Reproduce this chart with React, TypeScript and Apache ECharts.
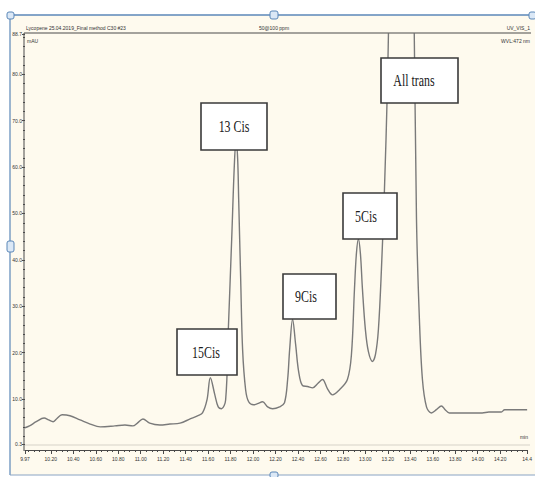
import React, { useEffect, useRef } from "react";
import * as echarts from "echarts";

// Retention time (min) and absorbance (mAU)
const retentionTime = [
  9.97, 10.01, 10.07, 10.14, 10.18, 10.22, 10.25, 10.3, 10.37, 10.46, 10.55, 10.64,
  10.77, 10.86, 10.93, 10.97, 11.02, 11.08, 11.17, 11.26, 11.35, 11.44, 11.51, 11.55,
  11.59, 11.62, 11.66, 11.69, 11.72, 11.756, 11.78, 11.81, 11.836, 11.85, 11.863, 11.872,
  11.89, 11.907, 11.934, 11.961, 12.005, 12.04, 12.085, 12.13, 12.174, 12.236, 12.28,
  12.308, 12.326, 12.352, 12.379, 12.406, 12.44, 12.485, 12.53, 12.574, 12.618, 12.663,
  12.707, 12.77, 12.84, 12.876, 12.903, 12.92, 12.938, 12.956, 12.974, 13.0, 13.027,
  13.063, 13.09, 13.116, 13.143, 13.17, 13.196, 13.21, 13.25, 13.32, 13.4, 13.43, 13.455,
  13.481, 13.508, 13.544, 13.588, 13.632, 13.677, 13.71, 13.748, 14.04, 14.1, 14.21,
  14.24, 14.44,
];
const absorbance = [
  3.8, 4.2, 5.1, 5.9, 5.5, 5.1, 5.7, 6.6, 6.4, 5.5, 4.6, 4.0,
  4.2, 4.4, 4.2, 4.8, 5.7, 4.8, 4.4, 4.6, 4.8, 5.7, 6.4, 7.0,
  9.8, 14.6, 10.9, 8.3, 7.9, 9.8, 25.0, 44.5, 61.8, 65.5, 61.8, 53.2,
  35.8, 20.7, 12.0, 9.4, 8.75, 9.0, 9.4, 8.3, 7.9, 8.3, 9.2,
  14.2, 20.7, 27.2, 21.8, 15.9, 12.9, 12.7, 12.4, 13.3, 14.2, 12.2,
  10.9, 12.0, 14.2, 19.6, 33.7, 41.3, 44.5, 41.3, 33.7, 25.0, 20.2,
  18.1, 19.6, 25.0, 38.0, 55.3, 77.0, 95, 140, 160, 140, 100, 48.8,
  27.2, 14.2, 8.3, 7.0, 7.7, 8.5, 7.7, 7.0, 7.0, 7.2, 7.2,
  7.7, 7.7,
];

const xTickValues = [
  9.97, 10.2, 10.4, 10.6, 10.8, 11.0, 11.2, 11.4, 11.6, 11.8, 12.0, 12.2, 12.4, 12.6,
  12.8, 13.0, 13.2, 13.4, 13.6, 13.8, 14.0, 14.2, 14.44,
];
const xTickLabels = [
  "9.97", "10.20", "10.40", "10.60", "10.80", "11.00", "11.20", "11.40", "11.60", "11.80",
  "12.00", "12.20", "12.40", "12.60", "12.80", "13.00", "13.20", "13.40", "13.60", "13.80",
  "14.00", "14.20", "14.4",
];
const yTickValues = [0.3, 10, 20, 30, 40, 50, 60, 70, 80, 88.7];
const yTickLabels = ["0.3", "10.0", "20.0", "30.0", "40.0", "50.0", "60.0", "70.0", "80.0", "88.7"];

const peakNames = ["15Cis", "13 Cis", "9Cis", "5Cis", "All trans"];

const headerLeft = "Lycopene 25.04.2019_Final method C30 #23";
const headerCenter = "50@100 ppm";
const headerRight = "UV_VIS_1";
const wavelength = "WVL:472 nm";
const yUnit = "mAU";
const xUnit = "min";

const X_MIN = 9.97;
const X_MAX = 14.44;
const Y_MIN = 0.3;
const Y_MAX = 88.7;

export default function App() {
  const ref = useRef<HTMLDivElement>(null);

  useEffect(() => {
    if (!ref.current) return;
    const chart = echarts.init(ref.current, null, { renderer: "svg" });

    const seriesData = retentionTime.map((t, i) => [t, absorbance[i]]);

    const xMinor: number[] = [];
    for (let v = 10.0; v <= 14.4001; v += 0.05) xMinor.push(Math.round(v * 100) / 100);
    const yMinor: number[] = [];
    for (let v = 2; v <= 88; v += 2) yMinor.push(v);

    const xLabelMap = new Map<number, string>();
    xTickValues.forEach((v, i) => xLabelMap.set(v, xTickLabels[i]));
    const yLabelMap = new Map<number, string>();
    yTickValues.forEach((v, i) => yLabelMap.set(v, yTickLabels[i]));

    const boxes = [
      { x: 177, y: 329, w: 60, h: 46 },
      { x: 201, y: 103, w: 66, h: 47 },
      { x: 283, y: 274, w: 53, h: 45 },
      { x: 343, y: 193, w: 54, h: 46 },
      { x: 381, y: 58, w: 77, h: 45 },
    ];
    const textCenters = [
      [206, 352],
      [234, 126],
      [306, 296],
      [366, 216],
      [414, 80],
    ];

    const boxGraphics: any[] = [];
    boxes.forEach((b, i) => {
      boxGraphics.push({
        type: "rect",
        z: 100,
        shape: { x: b.x, y: b.y, width: b.w, height: b.h },
        style: { fill: "#ffffff", stroke: "#3a3a3a", lineWidth: 1.6 },
      });
      boxGraphics.push({
        type: "text",
        z: 101,
        x: textCenters[i][0],
        y: textCenters[i][1],
        scaleX: 0.7,
        style: {
          text: peakNames[i],
          font: '17px "Liberation Serif", "DejaVu Serif", serif',
          fill: "#1a1a1a",
          align: "center",
          verticalAlign: "middle",
        },
      });
    });

    const smallFont = '5px "Liberation Sans", Arial, sans-serif';

    const frame: any[] = [
      {
        type: "rect",
        z: -10,
        shape: { x: 10, y: 15, width: 525, height: 460 },
        style: { fill: "#fefaee" },
      },
      { type: "line", z: 50, shape: { x1: 10, y1: 15, x2: 535, y2: 15 }, style: { stroke: "#5b87b8", lineWidth: 1.5 } },
      { type: "line", z: 50, shape: { x1: 10, y1: 15, x2: 10, y2: 475 }, style: { stroke: "#5b87b8", lineWidth: 1.2 } },
      { type: "line", z: 50, shape: { x1: 10, y1: 475, x2: 535, y2: 475 }, style: { stroke: "#8aa4c4", lineWidth: 1 } },
      { type: "rect", z: 51, shape: { x: 7, y: 12, width: 7, height: 7, r: 2 }, style: { fill: "#dbe8f6", stroke: "#5b87b8", lineWidth: 1 } },
      { type: "rect", z: 51, shape: { x: 270, y: 11, width: 8, height: 8, r: 2 }, style: { fill: "#dbe8f6", stroke: "#5b87b8", lineWidth: 1 } },
      { type: "rect", z: 51, shape: { x: 529, y: 12, width: 7, height: 7, r: 2 }, style: { fill: "#dbe8f6", stroke: "#5b87b8", lineWidth: 1 } },
      { type: "rect", z: 51, shape: { x: 7, y: 241, width: 7, height: 11, r: 2 }, style: { fill: "#dbe8f6", stroke: "#5b87b8", lineWidth: 1 } },
      { type: "rect", z: 51, shape: { x: 270, y: 472, width: 8, height: 6, r: 2 }, style: { fill: "#dbe8f6", stroke: "#5b87b8", lineWidth: 1 } },
      // plot frame
      { type: "line", z: 40, shape: { x1: 24, y1: 33, x2: 531, y2: 33 }, style: { stroke: "#4a4a4a", lineWidth: 1 } },
      { type: "line", z: 40, shape: { x1: 24, y1: 33, x2: 24, y2: 451 }, style: { stroke: "#4a4a4a", lineWidth: 1 } },
      { type: "line", z: 40, shape: { x1: 25, y1: 445, x2: 530, y2: 445 }, style: { stroke: "#d6d2c8", lineWidth: 1 } },
      // header texts
      { type: "text", z: 60, x: 26, y: 28, style: { text: headerLeft, font: smallFont, fill: "#333", verticalAlign: "middle" } },
      { type: "text", z: 60, x: 274, y: 28, style: { text: headerCenter, font: smallFont, fill: "#333", align: "center", verticalAlign: "middle" } },
      { type: "text", z: 60, x: 530, y: 28, style: { text: headerRight, font: smallFont, fill: "#333", align: "right", verticalAlign: "middle" } },
      { type: "text", z: 60, x: 530, y: 41, style: { text: wavelength, font: smallFont, fill: "#333", align: "right", verticalAlign: "middle" } },
      { type: "text", z: 60, x: 27, y: 41, style: { text: yUnit, font: smallFont, fill: "#333", verticalAlign: "middle" } },
      { type: "text", z: 60, x: 528, y: 437, style: { text: xUnit, font: smallFont, fill: "#333", align: "right", verticalAlign: "middle" } },
    ];

    chart.setOption({
      animation: false,
      backgroundColor: "#ffffff",
      grid: { left: 25, right: 7, top: 34, bottom: 33, containLabel: false },
      xAxis: [
        {
          type: "value",
          min: X_MIN,
          max: X_MAX,
          offset: 6,
          axisLine: { show: true, lineStyle: { color: "#4a4a4a", width: 1 } },
          axisTick: { show: true, customValues: xTickValues, length: 4, lineStyle: { color: "#4a4a4a" } },
          axisLabel: {
            show: true,
            customValues: xTickValues,
            formatter: (v: number) => xLabelMap.get(v) ?? v.toFixed(2),
            fontSize: 5,
            fontFamily: "Liberation Sans, Arial, sans-serif",
            color: "#333",
            margin: 6,
          },
          splitLine: { show: false },
        },
        {
          type: "value",
          min: X_MIN,
          max: X_MAX,
          position: "bottom",
          offset: 6,
          axisLine: { show: false },
          axisTick: { show: true, customValues: xMinor, length: 2, lineStyle: { color: "#4a4a4a" } },
          axisLabel: { show: false },
          splitLine: { show: false },
        },
      ],
      yAxis: [
        {
          type: "value",
          min: Y_MIN,
          max: Y_MAX,
          axisLine: { show: false },
          axisTick: { show: true, customValues: yTickValues, length: 3, lineStyle: { color: "#4a4a4a" } },
          axisLabel: {
            show: true,
            customValues: yTickValues,
            formatter: (v: number) => yLabelMap.get(v) ?? v.toFixed(1),
            fontSize: 5,
            fontFamily: "Liberation Sans, Arial, sans-serif",
            color: "#333",
            margin: 3,
          },
          splitLine: { show: false },
        },
        {
          type: "value",
          min: Y_MIN,
          max: Y_MAX,
          position: "left",
          axisLine: { show: false },
          axisTick: { show: true, customValues: yMinor, length: 2, lineStyle: { color: "#4a4a4a" } },
          axisLabel: { show: false },
          splitLine: { show: false },
        },
      ],
      series: [
        {
          type: "line",
          data: seriesData,
          showSymbol: false,
          smooth: 0.35,
          clip: true,
          lineStyle: { color: "#7a7a7a", width: 1.4 },
          z: 10,
        },
      ],
      graphic: [...frame, ...boxGraphics],
    });

    return () => chart.dispose();
  }, []);

  return (
    <div
      ref={ref}
      style={{ position: "fixed", left: 0, top: 0, width: 535, height: 477 }}
    />
  );
}
